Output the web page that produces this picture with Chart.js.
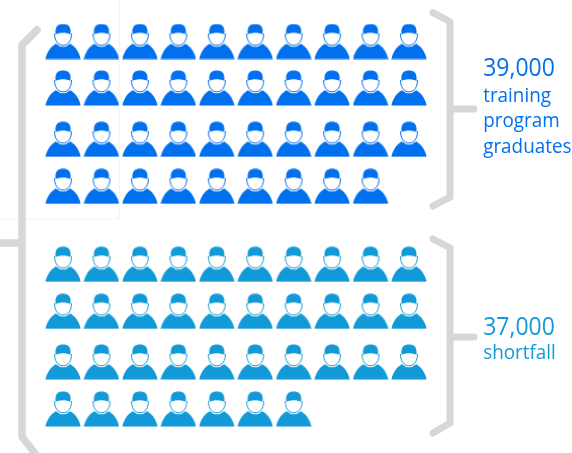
<!DOCTYPE html>
<html>
<head>
<meta charset="utf-8">
<style>html,body{margin:0;padding:0;background:#fff}canvas{display:block}</style>
<script src="https://cdn.jsdelivr.net/npm/chart.js@4"></script>
</head>
<body>
<canvas id="c" width="572" height="453"></canvas>
<script>
// One icon = 1,000 workers. Icons per row for each group.
const graduateRows = [10, 10, 10, 9];
const shortfallRows = [10, 10, 10, 7];
const graduateLevels = [0, 0.99, 2.08, 3.08];
const shortfallLevels = [4.74, 5.74, 6.82, 7.82];
const graduateLabel = ['39,000', 'training', 'program', 'graduates'];
const shortfallLabel = ['37,000', 'shortfall'];

const BLUE = '#0070ee', TEAL = '#119ad7', GREY = '#d6d7d9';

function icon(color) {
  const c = document.createElement('canvas');
  c.width = 36; c.height = 36;
  const g = c.getContext('2d');
  g.fillStyle = color;
  // shoulders
  g.beginPath();
  g.moveTo(0.4, 35.5);
  g.bezierCurveTo(1.5, 29.5, 5, 23.5, 11, 20);
  g.lineTo(25, 20);
  g.bezierCurveTo(31, 23.5, 34.5, 29.5, 35.6, 35.5);
  g.closePath();
  g.fill();
  // white halo round the head
  g.fillStyle = '#fff';
  g.beginPath();
  g.ellipse(18, 13, 9.6, 10.3, 0, 0, Math.PI * 2);
  g.fill();
  // head outline
  g.strokeStyle = color;
  g.lineWidth = 1;
  g.beginPath();
  g.moveTo(9.6, 10);
  g.bezierCurveTo(9.2, 16, 12.5, 21.8, 18, 21.8);
  g.bezierCurveTo(23.5, 21.8, 26.8, 16, 26.4, 10);
  g.stroke();
  // cap
  g.fillStyle = color;
  g.beginPath();
  g.moveTo(10.6, 10.8);
  g.bezierCurveTo(9.6, 2.5, 13, 0.4, 18, 0.4);
  g.bezierCurveTo(23, 0.4, 26.4, 2.5, 25.4, 10.8);
  g.bezierCurveTo(21, 8.8, 15, 8.8, 10.6, 10.8);
  g.closePath();
  g.fill();
  return c;
}

function points(counts, levels) {
  const out = [];
  counts.forEach((n, r) => { for (let i = 0; i < n; i++) out.push({ x: i, y: levels[r] }); });
  return out;
}

const faint = [{x:1.46,y:-1},{x:1.46,y:3.78},{x:-1.7,y:3.78}];
const bigBrace = [
  {x:-0.676,y:-0.245},{x:-1.067,y:0.074},{x:-1.067,y:8.41},{x:-0.676,y:8.82},{x:null,y:null},
  {x:-1.7,y:4.287},{x:-1.067,y:4.287}
];
const topBrace = [
  {x:9.625,y:-0.613},{x:10.068,y:-0.42},{x:10.068,y:3.309},{x:9.625,y:3.5},{x:null,y:null},
  {x:10.068,y:1.436},{x:10.69,y:1.436}
];
const lowBrace = [
  {x:9.625,y:4.202},{x:10.068,y:4.394},{x:10.068,y:8.117},{x:9.625,y:8.33},{x:null,y:null},
  {x:10.068,y:6.287},{x:10.69,y:6.287}
];
const lineSet = (data, color, width) => ({
  data, showLine:true, pointRadius:0, borderColor:color, borderWidth:width,
  borderCapStyle:'round', borderJoinStyle:'round', tension:0, spanGaps:false
});

const labels = {
  id: 'labels',
  afterDatasetsDraw(ch) {
    const { ctx, scales: { x, y } } = ch;
    ctx.save();
    ctx.textAlign = 'left';
    ctx.textBaseline = 'alphabetic';
    const put = (t, size, color, ux, uy) => {
      ctx.font = size + 'px "Open Sans"';
      ctx.fillStyle = color;
      // the original face is narrower than Open Sans: squeeze horizontally
      const w = ctx.measureText(t).width * 0.92;
      ctx.fillText(t, x.getPixelForValue(ux), y.getPixelForValue(uy), w);
    };
    put(graduateLabel[0], 25, BLUE, 10.93, 0.734);
    put(graduateLabel[1], 20.5, BLUE, 10.93, 1.28);
    put(graduateLabel[2], 20.5, BLUE, 10.93, 1.82);
    put(graduateLabel[3], 20.5, BLUE, 10.93, 2.365);
    put(shortfallLabel[0], 25, TEAL, 10.93, 6.245);
    put(shortfallLabel[1], 20.5, TEAL, 10.93, 6.755);
    ctx.restore();
  }
};

new Chart(document.getElementById('c'), {
  type: 'scatter',
  data: { datasets: [
    lineSet(faint, '#f5f5f5', 1),
    lineSet(bigBrace, GREY, 7.5),
    lineSet(topBrace, GREY, 7),
    lineSet(lowBrace, GREY, 7),
    { data: points(graduateRows, graduateLevels), pointStyle: icon(BLUE), pointRadius: 18 },
    { data: points(shortfallRows, shortfallLevels), pointStyle: icon(TEAL), pointRadius: 18 }
  ].map((d, i) => ({ ...d, order: 10 - i })) },
  options: {
    responsive: false,
    animation: false,
    events: [],
    layout: { padding: 0, autoPadding: false },
    plugins: { legend: { display: false }, tooltip: { enabled: false } },
    scales: {
      x: { type: 'linear', display: false, min: -1.639, max: 13.241 },
      y: { type: 'linear', display: false, reverse: true, min: -0.883, max: 8.755 }
    }
  },
  plugins: [labels]
});
</script>
</body>
</html>
